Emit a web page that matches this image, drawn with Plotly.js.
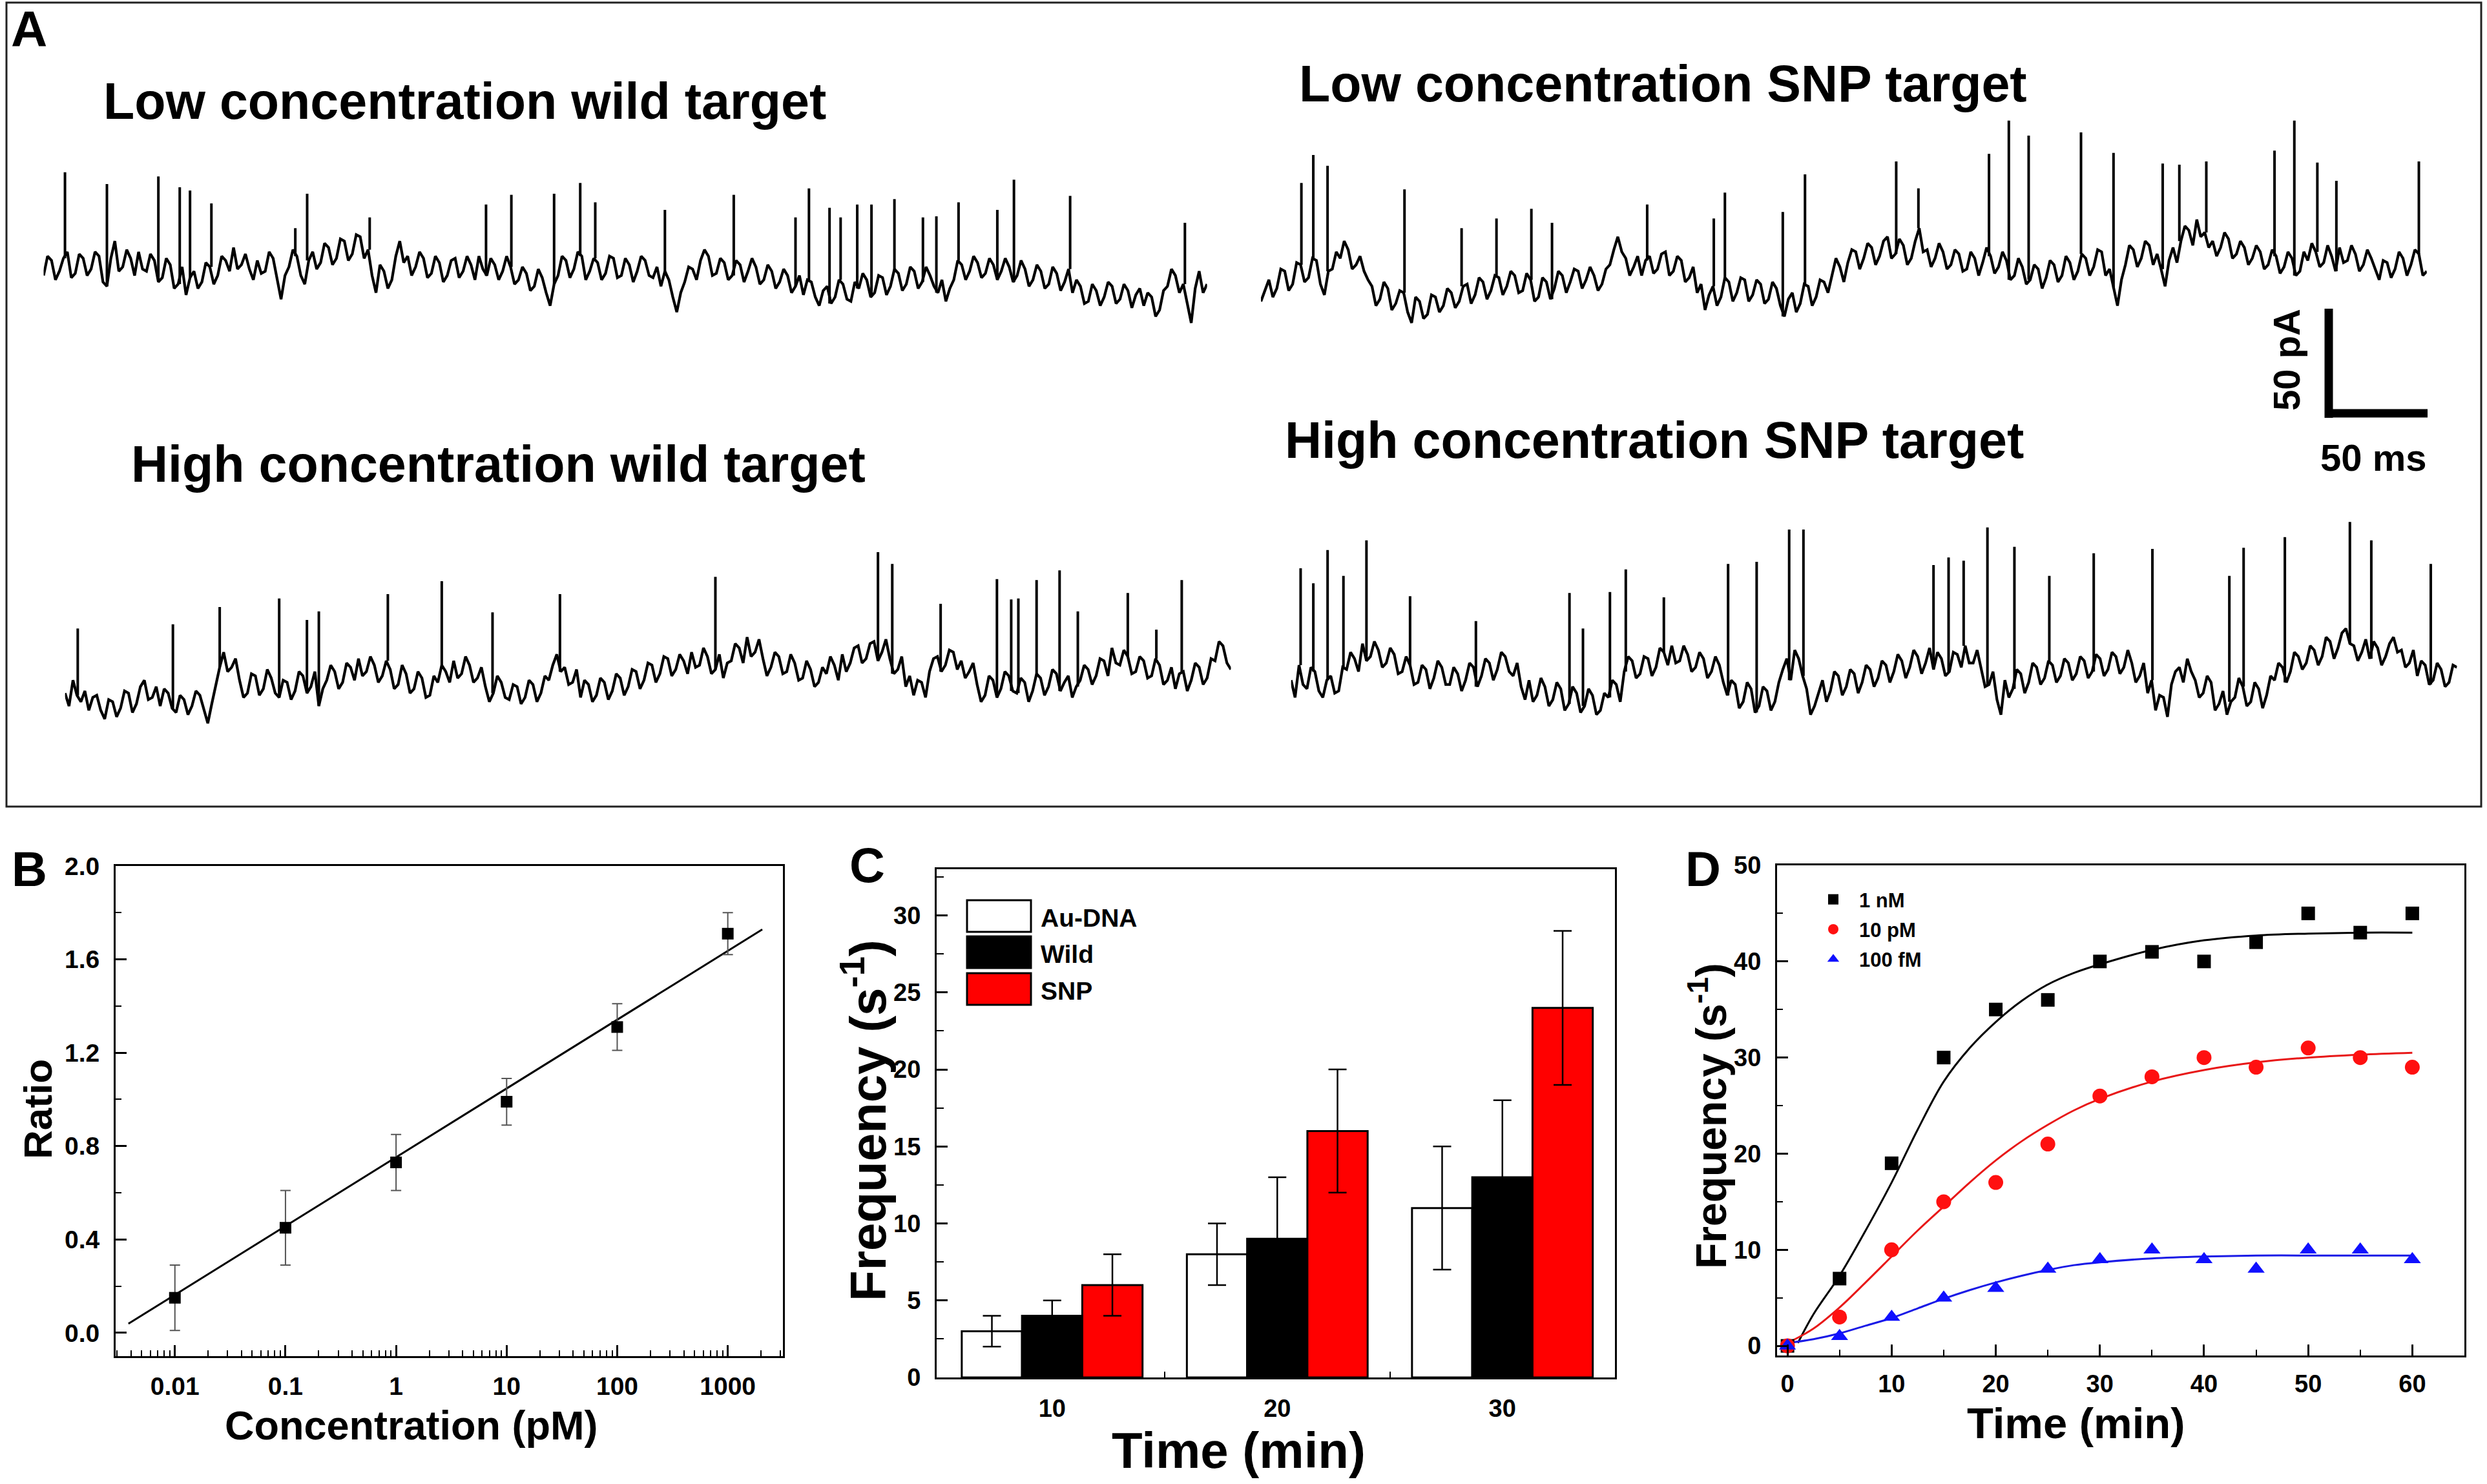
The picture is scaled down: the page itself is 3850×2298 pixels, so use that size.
<!DOCTYPE html>
<html><head><meta charset="utf-8">
<script src="https://cdn.plot.ly/plotly-3.0.1.min.js"></script>
<style>html,body{margin:0;padding:0;background:#fff;}#chart{width:3850px;height:2298px;}</style>
</head><body><div id="chart"></div>
<script>
// ---------------- Panel A : current traces (pA, sampled every 2 ms) ----------------
const DT = 2; // ms per sample
const lowWildBase = [
22,31,29,20,24,30,33,21,23,32,30,22,25,33,31,19,17,30,38,24,
26,34,30,22,33,25,24,32,29,19,21,30,27,16,18,26,13,21,24,16,
19,28,26,18,22,31,29,24,35,25,27,32,25,20,29,23,24,33,30,21,
11,22,26,34,31,22,18,29,33,25,28,37,35,27,30,39,38,29,32,41,
40,30,34,22,14,27,24,16,20,31,38,28,31,22,26,33,30,21,23,31,
28,19,22,29,30,21,24,31,27,20,31,25,22,30,27,20,24,31,26,18,
20,26,23,15,17,25,21,14,8,18,22,31,29,21,25,33,31,20,24,30,
28,20,23,31,30,21,22,30,27,19,24,31,29,22,21,26,17,24,20,12,
5,14,19,26,25,20,29,34,31,22,23,30,28,20,22,29,27,19,24,30,
26,18,20,27,24,16,19,25,22,14,17,22,13,20,19,12,8,15,17,9,
12,20,18,11,10,19,16,23,20,12,14,22,21,13,17,25,23,15,18,26,
24,16,19,26,22,17,14,20,10,16,20,29,27,20,24,31,28,21,23,30,
27,20,24,30,26,19,22,29,25,17,20,27,24,16,18,26,23,15,19,25,
14,20,17,9,10,18,15,8,12,19,17,9,11,18,15,7,13,16,8,14,
12,3,6,15,17,25,22,14,18,9,0,16,24,14,18];
const lowWildSpikeT = [10.8,32,58,68.8,74,84.8,127.2,133.2,164.8,223.6,236.4,258,271.2,278.8,314,348.8,380,386.8,397.2,402.8,411.2,418.4,430,444.4,451.2,462.4,482,490.4,518.8,576.8];
const lowWildSpikeP = [70,64.5,68,63,61.5,55.5,44,60,49,55,59.5,60,65,56,52.5,59.5,49,62.5,53.5,49,55,55,57.5,49,49.5,56,52.5,66.5,59,46.5];

const lowSnpBase = [
10,15,20,12,16,25,24,15,18,28,27,19,21,30,29,18,13,24,25,33,
30,38,34,25,27,31,24,20,17,8,11,19,16,6,9,15,14,5,0,12,
10,2,4,13,12,5,8,16,14,7,10,17,18,9,13,21,19,11,15,22,
21,13,17,24,22,14,15,23,20,10,12,21,19,11,16,24,22,14,19,25,
24,16,20,26,22,15,18,25,27,34,40,33,30,22,26,31,22,29,31,23,
25,32,33,22,24,31,29,19,21,26,14,18,6,13,17,8,12,21,19,10,
14,21,20,10,13,20,18,9,11,19,16,8,3,11,14,5,9,18,17,8,
12,20,19,14,22,30,26,19,28,34,33,25,30,37,35,27,31,38,40,30,
32,39,36,27,30,38,44,33,34,26,30,37,33,25,27,34,32,24,25,33,
30,22,28,35,31,23,26,33,29,20,22,30,26,18,20,27,25,16,21,29,
27,19,22,31,28,20,24,32,30,22,26,34,33,22,25,16,8,20,27,36,
34,26,30,38,36,27,32,25,17,29,35,28,38,45,43,36,48,40,42,35,
38,31,35,42,39,30,32,38,35,27,30,36,33,25,27,34,31,23,26,33,
30,22,24,33,29,37,33,26,28,36,31,24,35,28,29,36,32,24,27,34,
30,25,20,29,28,21,25,33,30,22,27,34,32,22,24];
const lowSnpSpikeT = [20.4,26.4,33.6,72.4,101.2,118.8,136.4,146.8,194.8,228.4,234,263.2,274.4,320.4,331.6,367.2,377.2,387.2,413.6,430,454.8,463.2,476.8,511.2,521.2,532.8,542.4,584];
const lowSnpSpikeP = [65,78,73,62,44,48.5,53,46.5,55,48.5,60.5,51.5,69,75,62.5,78.5,94,87,88.5,79,74,73.5,75,80,94,74.5,66,75];

const highWildBase = [
14,8,20,13,10,15,6,12,13,6,2,11,10,3,7,15,14,5,9,17,
20,11,12,17,8,16,14,7,5,13,11,4,8,15,13,6,0,9,18,26,
33,24,26,30,20,12,14,23,22,13,16,25,21,14,12,20,19,11,15,24,
22,14,17,24,8,16,20,27,24,16,19,28,26,20,30,22,24,31,27,19,
22,29,25,16,18,27,23,14,16,24,21,12,13,22,19,27,24,19,29,21,
23,31,27,19,21,26,17,10,14,22,19,12,11,18,17,9,12,20,18,10,
14,22,20,27,32,24,26,18,19,25,12,20,18,10,13,21,19,11,15,23,
21,13,17,25,24,16,20,28,27,19,23,31,30,22,25,32,29,23,33,26,
27,35,31,23,25,32,21,28,29,37,35,28,40,31,33,39,30,22,26,33,
31,23,24,32,28,20,21,29,25,17,19,26,23,31,27,20,32,24,28,35,
36,28,30,37,38,29,33,39,30,23,25,31,17,22,13,20,19,12,24,30,
31,24,27,34,33,25,29,21,24,28,18,10,13,22,20,12,16,24,22,15,
14,21,19,10,15,23,21,13,17,25,23,15,19,22,12,17,20,27,25,18,
22,30,29,22,35,28,27,34,31,23,24,31,29,21,22,30,27,18,20,26,
16,23,24,15,20,28,26,18,21,30,29,38,36,28,25];
const highWildSpikeT = [6.4,54.4,78,108,122,128,162.8,190,215.6,249.6,328,410,417.2,441.6,470,477.2,480.8,490,501.6,510.8,536,550.4,563.2];
const highWildSpikeP = [44,46,54,58,48,52,60,66,51.5,60,68,79.5,74,55.5,67,57.5,58,66.5,71,52,60.5,43.5,66.5];

const highSnpBase = [
20,12,27,18,16,26,24,15,12,20,22,14,15,26,25,33,30,24,37,29,
31,38,34,26,28,35,32,23,24,31,27,18,19,27,25,16,21,29,26,18,
18,26,23,15,20,28,26,17,22,30,28,20,25,33,31,24,22,28,17,11,
20,10,13,21,17,8,11,19,16,6,9,17,14,5,8,16,13,4,6,14,
12,20,18,10,24,31,29,21,23,31,30,22,26,35,33,27,36,28,29,36,
32,24,26,33,30,21,24,31,27,19,13,20,18,7,10,19,16,5,8,17,
15,6,10,19,25,30,20,34,30,22,16,4,8,14,20,10,15,24,22,13,
17,25,23,14,19,27,25,17,21,29,27,19,24,32,29,21,26,34,31,23,
28,35,25,33,30,22,24,33,32,26,36,28,28,34,25,17,18,24,11,4,
20,12,16,25,23,14,19,28,26,18,21,29,27,19,22,30,28,20,23,31,
29,21,24,32,30,22,25,33,31,23,26,34,28,19,22,28,14,20,6,13,
12,3,18,24,26,19,30,24,20,12,14,22,19,6,9,15,4,10,12,21,
17,8,10,19,16,7,13,22,20,28,26,19,24,33,31,25,28,36,34,27,
31,40,38,30,35,42,44,37,36,29,33,39,30,38,35,27,31,37,40,33,
34,26,28,34,22,29,27,18,20,28,25,17,19,27,26];
const highSnpSpikeT = [4.8,11.2,18.4,26.4,38,60,93.2,140.4,147.2,160.8,168.8,188,220.4,234.8,251.2,258.4,324,331.6,339.2,351.2,364.8,382.4,404.8,434.4,473.2,480.4,501.2,534,544.8,574.8];
const highSnpSpikeP = [72,65,80.5,68.5,85,59,47.5,60.5,44,61,71.5,58.5,74,75,90,90,73.5,77,75.5,91,82,68.5,79,81,68.5,81.5,86.5,93.5,85,74];

// ---------------- Panel B ----------------
const concB = [0.01, 0.1, 1, 10, 100, 1000];
const ratioB = [0.15, 0.45, 0.73, 0.99, 1.31, 1.71];
const ratioErrB = [0.14, 0.16, 0.12, 0.10, 0.10, 0.09];
const fitConcB = [0.0038, 2050];
const fitRatioB = [0.039, 1.728];
const tickConcB = ['0.01','0.1','1','10','100','1000'];

// ---------------- Panel C ----------------
const timeC = [10, 20, 30];
const auDNA = [3, 8, 11];
const auDNAErr = [1, 2, 4];
const wild = [4, 9, 13];
const wildErr = [1, 4, 5];
const snp = [6, 16, 24];
const snpErr = [2, 4, 5];
const legendC = ['Au-DNA', 'Wild', 'SNP'];

// ---------------- Panel D ----------------
const timeD = [0,5,10,15,20,25,30,35,40,45,50,55,60];
const freq1nM = [0,7,19,30,35,36,40,41,40,42,45,43,45];
const freq10pM = [0,3,10,15,17,21,26,28,30,29,31,30,29];
const freq100fM = [0,1,3,5,6,8,9,10,9,8,10,10,9];
const fitT1nM = [1,2.5,5,7.5,10,12.5,15,17.5,20,22.5,25,27.5,30,35,40,45,50,55,60];
const fit1nM = [0.3,3.3,7.3,12,17,22.5,27.5,31,33.7,35.9,37.6,38.8,39.7,41.2,42.2,42.7,42.9,43,43];
const fitT = [0,2.5,5,7.5,10,12.5,15,17.5,20,22.5,25,27.5,30,35,40,45,50,55,60];
const fit10pM = [0.3,1.8,4.0,6.6,9.3,12,14.5,17,19.3,21.3,23,24.5,25.7,27.5,28.7,29.5,30,30.3,30.5];
const fit100fM = [0.3,0.7,1.3,2.1,2.9,3.9,4.9,5.8,6.6,7.3,7.9,8.4,8.7,9.1,9.3,9.4,9.4,9.4,9.4];

// ---------------- layout helpers ----------------
const W = 3850, H = 2298;
const FONT = '"Liberation Sans", Arial, Helvetica, sans-serif';
const X = px => px / W;
const Y = py => 1 - py / H;
const f = (size, color) => ({family: FONT, size: size, color: color || 'black', weight: 'bold'});

const traces = [];
const layout = {
  width: W, height: H, margin: {l:0, r:0, t:0, b:0},
  paper_bgcolor: 'white', plot_bgcolor: 'rgba(0,0,0,0)',
  showlegend: true, shapes: [], annotations: []
};

// Panel A subplots: left px, right px, vertical offset px
const aBoxes = [
  {name:'4', base: lowWildBase, st: lowWildSpikeT, sp: lowWildSpikeP, l: 67.5, r: 1868.6, oy: 0},
  {name:'5', base: lowSnpBase, st: lowSnpSpikeT, sp: lowSnpSpikeP, l: 1952, r: 3756.8, oy: 0},
  {name:'6', base: highWildBase, st: highWildSpikeT, sp: highWildSpikeP, l: 100.7, r: 1905.5, oy: 620},
  {name:'7', base: highSnpBase, st: highSnpSpikeT, sp: highSnpSpikeP, l: 1998.7, r: 3803.5, oy: 620}
];
aBoxes.forEach(b => {
  const tx = b.base.map((v, i) => i * DT);
  traces.push({x: tx, y: b.base, type: 'scatter', mode: 'lines', xaxis: 'x' + b.name, yaxis: 'y' + b.name,
    line: {color: 'black', width: 4.2}, showlegend: false, hoverinfo: 'skip'});
  const sx = [], sy = [];
  b.st.forEach((t, k) => { sx.push(t, t, null); sy.push(b.base[Math.round(t / DT)], b.sp[k], null); });
  traces.push({x: sx, y: sy, type: 'scatter', mode: 'lines', xaxis: 'x' + b.name, yaxis: 'y' + b.name,
    line: {color: 'black', width: 4}, showlegend: false, hoverinfo: 'skip'});
  layout['xaxis' + b.name] = {domain: [X(b.l), X(b.r)], range: [0, (b.base.length - 1) * DT], visible: false, anchor: 'y' + b.name};
  layout['yaxis' + b.name] = {domain: [Y(b.oy + 533.33), Y(b.oy + 166.67)], range: [-10, 100], visible: false, anchor: 'x' + b.name};
});

// Panel A frame, scale bar and texts
layout.shapes.push({type:'rect', xref:'paper', yref:'paper', x0:X(10), x1:X(3841), y0:Y(4), y1:Y(1249), line:{color:'#222', width:3}});
layout.shapes.push({type:'line', xref:'paper', yref:'paper', x0:X(3605), x1:X(3605), y0:Y(478), y1:Y(647), line:{color:'black', width:13}});
layout.shapes.push({type:'line', xref:'paper', yref:'paper', x0:X(3599), x1:X(3758), y0:Y(640), y1:Y(640), line:{color:'black', width:13}});

function ann(text, x, y, size, opt) {
  layout.annotations.push(Object.assign({text: text, x: X(x), y: Y(y), xref: 'paper', yref: 'paper',
    showarrow: false, xanchor: 'center', yanchor: 'middle', font: f(size)}, opt || {}));
}
ann('A', 15, 45, 78, {xanchor:'left'});
ann('Low concentration wild target', 158, 157, 79, {xanchor:'left'});
ann('Low concentration SNP target', 2009, 130, 79, {xanchor:'left'});
ann('High concentration wild target', 201, 718, 79, {xanchor:'left'});
ann('High concentration SNP target', 1987, 682, 79, {xanchor:'left'});
ann('50 pA', 3539, 557, 58, {textangle: -90});
ann('50 ms', 3674, 708, 58);

// common axis style
function axStyle(extra) {
  return Object.assign({showgrid:false, zeroline:false, showline:true, linecolor:'black', linewidth:3, mirror:true,
    ticks:'inside', ticklen:17, tickwidth:3, tickcolor:'black', tickfont: f(39), ticklabelstandoff: 14}, extra);
}

// ---------------- Panel B ----------------
traces.push({x: fitConcB, y: fitRatioB, type:'scatter', mode:'lines', line:{color:'black', width:3}, showlegend:false, xaxis:'x', yaxis:'y'});
traces.push({x: concB, y: ratioB, type:'scatter', mode:'markers', marker:{symbol:'square', size:18, color:'black'},
  error_y:{type:'data', array: ratioErrB, visible:true, color:'#555', thickness:2, width:8}, showlegend:false, xaxis:'x', yaxis:'y'});
layout.xaxis = axStyle({domain:[X(179), X(1212)], type:'log', range:[-2.536, 3.4986], tickmode:'array', tickvals: concB, ticktext: tickConcB,
  minor:{ticks:'inside', ticklen:9, tickwidth:2, tickcolor:'black', dtick:'D1'}, anchor:'y', ticklabelstandoff: 10});
layout.yaxis = axStyle({domain:[Y(2100), Y(1341)], range:[-0.1, 2.0], tick0:0, dtick:0.4, tickformat:'.1f',
  minor:{ticks:'inside', ticklen:9, tickwidth:2, tickcolor:'black', tick0:0, dtick:0.2}, anchor:'x'});
ann('B', 16, 1345, 76, {xanchor:'left'});
ann('Concentration (pM)', 636, 2207, 63);
ann('Ratio', 58, 1718, 62, {textangle:-90});

// ---------------- Panel C ----------------
const barLine = {color:'black', width:3};
traces.push({x: timeC, y: auDNA, type:'bar', name: legendC[0], marker:{color:'white', line: barLine},
  error_y:{type:'data', array: auDNAErr, color:'black', thickness:2.5, width:14}, showlegend:false, xaxis:'x2', yaxis:'y2'});
traces.push({x: timeC, y: wild, type:'bar', name: legendC[1], marker:{color:'black', line: barLine},
  error_y:{type:'data', array: wildErr, color:'black', thickness:2.5, width:14}, showlegend:false, xaxis:'x2', yaxis:'y2'});
traces.push({x: timeC, y: snp, type:'bar', name: legendC[2], marker:{color:'#ff0000', line: barLine},
  error_y:{type:'data', array: snpErr, color:'black', thickness:2.5, width:14}, showlegend:false, xaxis:'x2', yaxis:'y2'});
layout.barmode = 'group';
layout.bargap = 0.197;
layout.bargroupgap = 0;
layout.xaxis2 = axStyle({domain:[X(1450), X(2500)], range:[4.87, 35], tickmode:'array', tickvals: timeC, ticks:'', tickfont:f(38),
  minor:{ticks:'inside', ticklen:9, tickwidth:2, tickcolor:'black', tickmode:'array', tickvals:[15, 25]}, anchor:'y2', ticklabelstandoff: 12});
layout.yaxis2 = axStyle({domain:[Y(2133), Y(1346)], range:[0, 33], tick0:0, dtick:5, tickfont:f(38),
  minor:{ticks:'inside', ticklen:11, tickwidth:2, tickcolor:'black', tick0:0, dtick:2.5}, anchor:'x2'});
// legend boxes for panel C
const legCols = ['white', 'black', '#ff0000'];
const legTop = [1394, 1450, 1507];
legendC.forEach((name, i) => {
  layout.shapes.push({type:'rect', xref:'paper', yref:'paper', x0:X(1497), x1:X(1596), y0:Y(legTop[i] + 49), y1:Y(legTop[i]),
    fillcolor: legCols[i], line:{color:'black', width:3}});
  ann(name, 1609, legTop[i] + 27, 39, {xanchor:'left'});
});
ann('C', 1313, 1339, 76, {xanchor:'left'});
ann('Frequency (s<sup>-1</sup>)', 1338, 1735, 78, {textangle:-90});
ann('Time (min)', 1917, 2246, 78);

// ---------------- Panel D ----------------
traces.push({x: fitT1nM, y: fit1nM, type:'scatter', mode:'lines', line:{color:'black', width:3, shape:'spline'}, showlegend:false, xaxis:'x3', yaxis:'y3'});
traces.push({x: fitT, y: fit10pM, type:'scatter', mode:'lines', line:{color:'#e81818', width:3, shape:'spline'}, showlegend:false, xaxis:'x3', yaxis:'y3'});
traces.push({x: fitT, y: fit100fM, type:'scatter', mode:'lines', line:{color:'#1a1ae6', width:3, shape:'spline'}, showlegend:false, xaxis:'x3', yaxis:'y3'});
traces.push({x: timeD, y: freq1nM, type:'scatter', mode:'markers', name:'1 nM', legendgroup:'a', marker:{symbol:'square', size:21, color:'black'}, xaxis:'x3', yaxis:'y3'});
traces.push({x: timeD, y: freq10pM, type:'scatter', mode:'markers', name:'10 pM', legendgroup:'b', marker:{symbol:'circle', size:23, color:'#ff1010'}, xaxis:'x3', yaxis:'y3'});
traces.push({x: timeD, y: freq100fM, type:'scatter', mode:'markers', name:'100 fM', legendgroup:'c', marker:{symbol:'triangle-up', size:23, color:'#1010ff'}, xaxis:'x3', yaxis:'y3'});
layout.xaxis3 = axStyle({domain:[X(2751), X(3815)], range:[-1, 65], tick0:0, dtick:10, tickfont:f(38),
  minor:{ticks:'inside', ticklen:9, tickwidth:2, tickcolor:'black', tick0:0, dtick:5}, anchor:'y3', ticklabelstandoff: 8});
layout.yaxis3 = axStyle({domain:[Y(2099), Y(1340)], range:[-1, 50], tick0:0, dtick:10, tickfont:f(38),
  minor:{ticks:'inside', ticklen:9, tickwidth:2, tickcolor:'black', tick0:0, dtick:5}, anchor:'x3'});
layout.legend = {x: X(2798), y: Y(1366), xanchor:'left', yanchor:'top', font: f(31), bgcolor:'rgba(0,0,0,0)',
  tracegroupgap: 3, itemwidth: 70, borderwidth: 0};
ann('D', 2607, 1345, 76, {xanchor:'left'});
ann('Frequency (s<sup>-1</sup>)', 2644, 1728, 66, {textangle:-90});
ann('Time (min)', 3214, 2203, 67);

Plotly.newPlot('chart', traces, layout, {displayModeBar:false, staticPlot:true});
</script>
</body></html>
